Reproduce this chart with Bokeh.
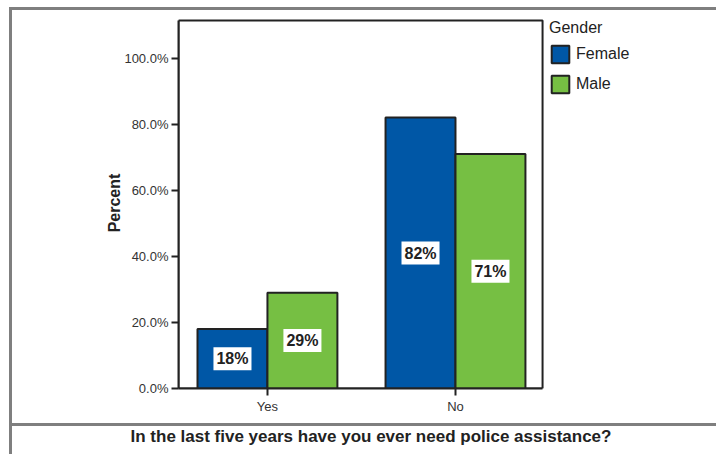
from bokeh.plotting import figure
from bokeh.models import (Range1d, FixedTicker, PrintfTickFormatter, ColumnDataSource,
                          Label, Legend, LegendItem, BoxAnnotation, Title)
from bokeh.embed import file_html
from bokeh.resources import INLINE

categories = ["Yes", "No"]
female = [18, 82]
male = [29, 71]
y_ticks = [0, 20, 40, 60, 80, 100]
title_text = "In the last five years have you ever need police assistance?"

FONT = "Liberation Sans"
BLUE = "#0057a6"
GREEN = "#76bf43"
GRAY = "#7f7f7f"
DARK = "#222222"

# layout constants (data units of the plot box)
X_START, X_END, BOX_RIGHT = -0.473, 2.388, 1.463
Y_END, BOX_TOP = 112.3, 111.4

bg = (f"linear-gradient({GRAY},{GRAY}) 9px 7px / 707px 3px no-repeat, "
      f"linear-gradient({GRAY},{GRAY}) 9px 7px / 3px 447px no-repeat, "
      f"linear-gradient({GRAY},{GRAY}) 9px 423px / 707px 3px no-repeat, white")

p = figure(width=716, height=454, output_backend="svg", toolbar_location=None,
           x_range=Range1d(X_START, X_END), y_range=Range1d(0, Y_END),
           min_border_left=178, min_border_right=0, min_border_top=17, min_border_bottom=63,
           styles={"background": bg})
p.xgrid.visible = False
p.ygrid.visible = False
p.outline_line_color = None
p.background_fill_color = "white"
p.border_fill_alpha = 0

idx = list(range(len(categories)))
w = 0.372
src_f = ColumnDataSource(dict(x=[i - w / 2 for i in idx], top=female))
src_m = ColumnDataSource(dict(x=[i + w / 2 for i in idx], top=male))
rf = p.vbar(x="x", top="top", width=w, source=src_f, fill_color=BLUE,
            line_color=DARK, line_width=2)
rm = p.vbar(x="x", top="top", width=w, source=src_m, fill_color=GREEN,
            line_color=DARK, line_width=2)

for s in (src_f, src_m):
    for xv, v in zip(s.data["x"], s.data["top"]):
        p.add_layout(Label(x=xv, y=v / 2, text=f"{v}%", text_align="center",
                           text_baseline="middle", text_font=FONT, text_font_style="bold",
                           text_font_size="16px", text_color=DARK,
                           background_fill_color="white", padding=3))

# plot box (top and right edges)
p.add_layout(BoxAnnotation(left=X_START, right=BOX_RIGHT, bottom=0, top=BOX_TOP,
                           fill_alpha=0, line_color=DARK, line_alpha=1, line_width=2,
                           level="underlay"))

# axes
p.xaxis.ticker = FixedTicker(ticks=idx)
p.xaxis.major_label_overrides = {i: c for i, c in zip(idx, categories)}
p.xaxis.bounds = (X_START, BOX_RIGHT)
p.yaxis.ticker = FixedTicker(ticks=y_ticks)
p.yaxis.formatter = PrintfTickFormatter(format="%.1f%%")
p.yaxis.bounds = (0, BOX_TOP)
for ax in (p.xaxis[0], p.yaxis[0]):
    ax.axis_line_color = DARK
    ax.axis_line_width = 2
    ax.major_tick_line_color = DARK
    ax.major_tick_line_width = 2
    ax.major_tick_out = 7
    ax.major_tick_in = 0
    ax.minor_tick_line_color = None
    ax.major_label_text_font = FONT
    ax.major_label_text_font_size = "13px"
    ax.major_label_text_color = "#333333"
    ax.major_label_standoff = 3
p.yaxis.axis_label = "Percent"
p.yaxis.axis_label_text_font = FONT
p.yaxis.axis_label_text_font_style = "bold"
p.yaxis.axis_label_text_font_size = "16px"
p.yaxis.axis_label_text_color = DARK
p.yaxis.axis_label_standoff = -2

# legend inside the (wide) frame, to the right of the plot box
legend = Legend(items=[LegendItem(label="Female", renderers=[rf]),
                       LegendItem(label="Male", renderers=[rm])],
                title="Gender", location=(371, 293), padding=0, margin=0,
                border_line_color=None, background_fill_alpha=0,
                glyph_width=22, glyph_height=22, spacing=8, label_standoff=5,
                label_text_font=FONT, label_text_font_size="16px", label_text_color=DARK,
                title_text_font=FONT, title_text_font_size="16px", title_text_font_style="normal",
                title_text_color=DARK, title_standoff=6)
p.add_layout(legend, "center")

p.add_layout(Title(text=title_text, align="left", offset=-48, text_font=FONT,
                   text_font_style="bold", text_font_size="17px", text_color=DARK,
                   standoff=17), "below")

open("out.html", "w").write(file_html(p, INLINE))
